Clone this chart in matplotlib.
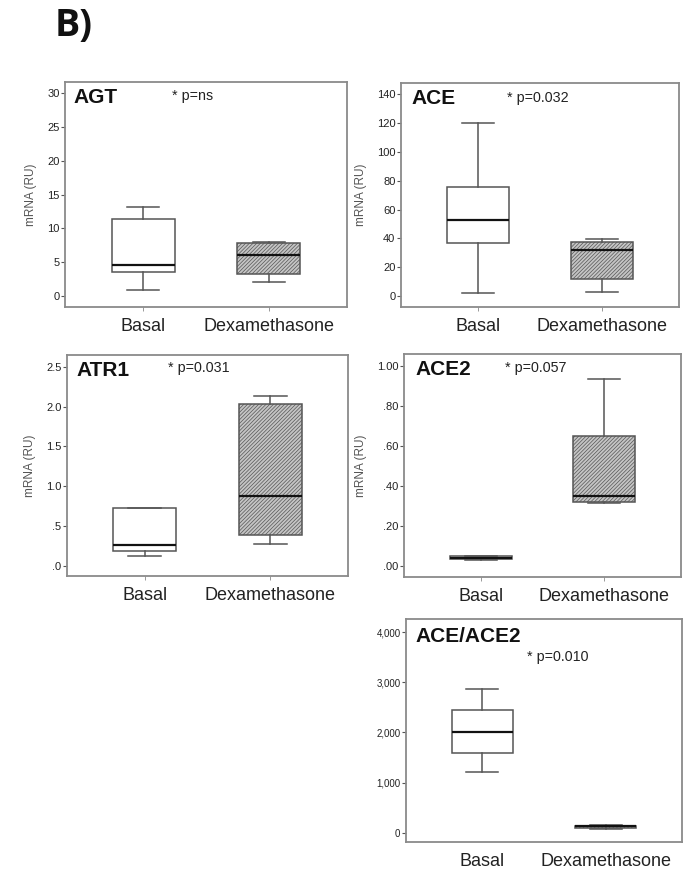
import matplotlib
matplotlib.use("Agg")
import matplotlib.pyplot as plt
from matplotlib.ticker import FixedLocator, FixedFormatter

plt.rcParams['font.family'] = ['Liberation Sans', 'DejaVu Sans']
plt.rcParams['hatch.linewidth'] = 0.5

groups = ["Basal", "Dexamethasone"]

# box statistics: (whislo, q1, med, q3, whishi) for Basal, Dexamethasone
agt_basal = [0.9, 3.5, 4.6, 11.4, 13.1]
agt_dex = [2.1, 3.25, 6.0, 7.8, 8.0]
ace_basal = [1.9, 36.8, 52.5, 75.5, 120.0]
ace_dex = [3.0, 11.8, 31.7, 37.3, 39.6]
atr1_basal = [0.12, 0.19, 0.26, 0.72, 0.72]
atr1_dex = [0.27, 0.39, 0.875, 2.03, 2.13]
ace2_basal = [0.030, 0.032, 0.040, 0.047, 0.050]
ace2_dex = [0.313, 0.318, 0.347, 0.65, 0.933]
ratio_basal = [1213, 1593, 2000, 2453, 2860]
ratio_dex = [70, 95, 125, 140, 150]

titles = ["AGT", "ACE", "ATR1", "ACE2", "ACE/ACE2"]
pvals = ["* p=ns", "* p=0.032", "* p=0.031", "* p=0.057", "* p=0.010"]

agt_ticks = [0, 5, 10, 15, 20, 25, 30]
agt_labels = ["0", "5", "10", "15", "20", "25", "30"]
ace_ticks = [0, 20, 40, 60, 80, 100, 120, 140]
ace_labels = ["0", "20", "40", "60", "80", "100", "120", "140"]
atr1_ticks = [0, 0.5, 1.0, 1.5, 2.0, 2.5]
atr1_labels = [".0", ".5", "1.0", "1.5", "2.0", "2.5"]
ace2_ticks = [0, 0.2, 0.4, 0.6, 0.8, 1.0]
ace2_labels = [".00", ".20", ".40", ".60", ".80", "1.00"]
ratio_ticks = [0, 1000, 2000, 3000, 4000]
ratio_labels = ["0", "1,000", "2,000", "3,000", "4,000"]

W, H = 686, 873
fig = plt.figure(figsize=(W / 100, H / 100), dpi=100)


def rect(l, r, t, b):
    return [l / W, 1 - b / H, (r - l) / W, (b - t) / H]


panels = [
    dict(pos=rect(65, 347, 82, 307), data=(agt_basal, agt_dex), ylim=(-1.6, 31.6),
         ticks=agt_ticks, labels=agt_labels, ylabel=True,
         tpos=(0.03, 0.975), ppos=(0.38, 0.938), tsize=8, xticks=True),
    dict(pos=rect(401, 679, 83, 307), data=(ace_basal, ace_dex), ylim=(-7.6, 147.8),
         ticks=ace_ticks, labels=ace_labels, ylabel=True,
         tpos=(0.038, 0.975), ppos=(0.38, 0.933), tsize=8, xticks=True),
    dict(pos=rect(67, 348, 355, 576), data=(atr1_basal, atr1_dex), ylim=(-0.13, 2.65),
         ticks=atr1_ticks, labels=atr1_labels, ylabel=True,
         tpos=(0.032, 0.975), ppos=(0.36, 0.94), tsize=8, xticks=True),
    dict(pos=rect(404, 681, 354, 577), data=(ace2_basal, ace2_dex), ylim=(-0.057, 1.06),
         ticks=ace2_ticks, labels=ace2_labels, ylabel=True,
         tpos=(0.04, 0.975), ppos=(0.365, 0.937), tsize=8, xticks=True),
    dict(pos=rect(406, 682, 619, 842), data=(ratio_basal, ratio_dex), ylim=(-188, 4266),
         ticks=ratio_ticks, labels=ratio_labels, ylabel=False,
         tpos=(0.033, 0.965), ppos=(0.437, 0.83), tsize=7, xticks=False),
]

for i, p in enumerate(panels):
    ax = fig.add_axes(p["pos"])
    stats = []
    for g, d in zip(groups, p["data"]):
        stats.append(dict(label=g, whislo=d[0], q1=d[1], med=d[2], q3=d[3], whishi=d[4],
                          fliers=[]))
    bp = ax.bxp(stats, positions=[1, 2], widths=0.5, capwidths=0.26,
                showfliers=False, patch_artist=True,
                boxprops=dict(edgecolor="#555555", linewidth=1.1),
                whiskerprops=dict(color="#555555", linewidth=1.1),
                capprops=dict(color="#555555", linewidth=1.1),
                medianprops=dict(color="#111111", linewidth=1.6))
    bp["boxes"][0].set_facecolor("white")
    bp["boxes"][1].set_facecolor("#c4c4c4")
    bp["boxes"][1].set_hatch("/////////")
    ax.set_xlim(0.38, 2.62)
    ax.set_ylim(*p["ylim"])
    ax.yaxis.set_major_locator(FixedLocator(p["ticks"]))
    ax.yaxis.set_major_formatter(FixedFormatter(p["labels"]))
    ax.tick_params(axis="y", labelsize=p["tsize"], length=3, width=0.8,
                   color="#555555", labelcolor="#222222", pad=1)
    if p["xticks"]:
        ax.tick_params(axis="x", labelsize=13, length=3, width=0.6,
                       color="#888888", labelcolor="#222222", pad=5)
    else:
        ax.tick_params(axis="x", labelsize=13, length=0,
                       labelcolor="#222222", pad=8)
    ax.set_xticks([1, 2])
    ax.set_xticklabels(groups)
    for s in ax.spines.values():
        s.set_color("#8a8a8a")
        s.set_linewidth(1.3)
    if p["ylabel"]:
        ax.set_ylabel("mRNA (RU)", fontsize=8.5, color="#555555", labelpad=7)
    ax.text(p["tpos"][0], p["tpos"][1], titles[i], transform=ax.transAxes,
            fontsize=15, fontweight="bold", va="top", ha="left", color="#111111")
    ax.text(p["ppos"][0], p["ppos"][1], pvals[i], transform=ax.transAxes,
            fontsize=10.3, va="center", ha="left", color="#222222")

fig.text(55 / W, 1 - 26 / H, "B)", fontsize=27, fontweight="bold",
         family=["Open Sans", "DejaVu Sans"], va="center", ha="left", color="#111111")

fig.savefig("out.png", dpi=100, facecolor="white")
